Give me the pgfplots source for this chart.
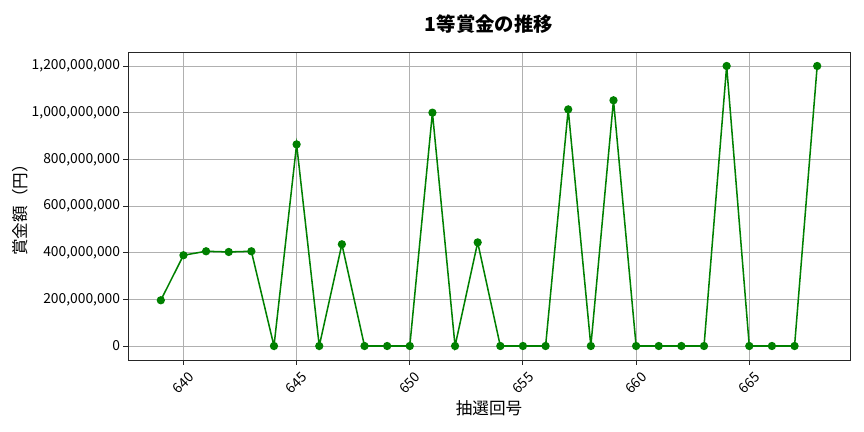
\documentclass[border=0pt]{standalone}
\usepackage{fontspec}
\setmainfont{Noto Sans CJK JP}
\usepackage{pgfplots}
\pgfplotsset{compat=1.18}
\definecolor{mplgreen}{HTML}{008000}
\definecolor{gridgray}{HTML}{B0B0B0}
\definecolor{spine}{HTML}{262626}
\begin{document}
\begin{tikzpicture}
\path[use as bounding box] (0,0) rectangle (622.08bp,311.04bp);
\begin{axis}[
  at={(92.16bp,51.84bp)}, anchor=south west,
  width=519.84bp, height=221.76bp, scale only axis,
  xmin=637.55, xmax=669.45,
  ymin=-60000000, ymax=1260000000,
  xtick={640,645,650,655,660,665},
  xticklabels={640,645,650,655,660,665},
  ytick={0,200000000,400000000,600000000,800000000,1000000000,1200000000},
  yticklabels={0,{200,000,000},{400,000,000},{600,000,000},{800,000,000},{1,000,000,000},{1,200,000,000}},
  scaled y ticks=false,
  /pgf/number format/assume math mode=true,
  tick pos=left, tick align=outside,
  major tick length=3.5bp,
  tick style={spine, line width=0.7bp},
  axis line style={spine, line width=0.7bp},
  grid=major,
  major grid style={gridgray, line width=0.7bp},
  ticklabel style={font=\fontsize{10}{12}\selectfont},
  xticklabel style={yshift=-13bp, rotate=45, anchor=center},
  yticklabel style={anchor=east, inner sep=0pt, xshift=-2bp},
  title={\bfseries 1等賞金の推移},
  title style={at={(axis description cs:0.5,1.064)}, anchor=center, font=\fontsize{14}{16}\selectfont, inner sep=0pt},
  xlabel={抽選回号},
  xlabel style={at={(axis description cs:0.5,-0.1558)}, anchor=center, font=\fontsize{12}{14}\selectfont, inner sep=0pt},
  ylabel={賞金額（円）},
  ylabel style={at={(axis description cs:-0.1496,0.5)}, anchor=center, font=\fontsize{12}{14}\selectfont, inner sep=0pt},
]
\addplot[color=mplgreen, line width=1.1bp, mark=*, mark size=2.4bp, mark options={solid, fill=mplgreen, draw=mplgreen}] coordinates {
(639,196000000)
(640,389000000)
(641,406000000)
(642,403000000)
(643,406000000)
(644,0)
(645,864000000)
(646,0)
(647,436000000)
(648,0)
(649,0)
(650,0)
(651,1000000000)
(652,0)
(653,444000000)
(654,0)
(655,0)
(656,0)
(657,1014000000)
(658,0)
(659,1053000000)
(660,0)
(661,0)
(662,0)
(663,0)
(664,1200000000)
(665,0)
(666,0)
(667,0)
(668,1200000000)
};
\end{axis}
\end{tikzpicture}
\end{document}
